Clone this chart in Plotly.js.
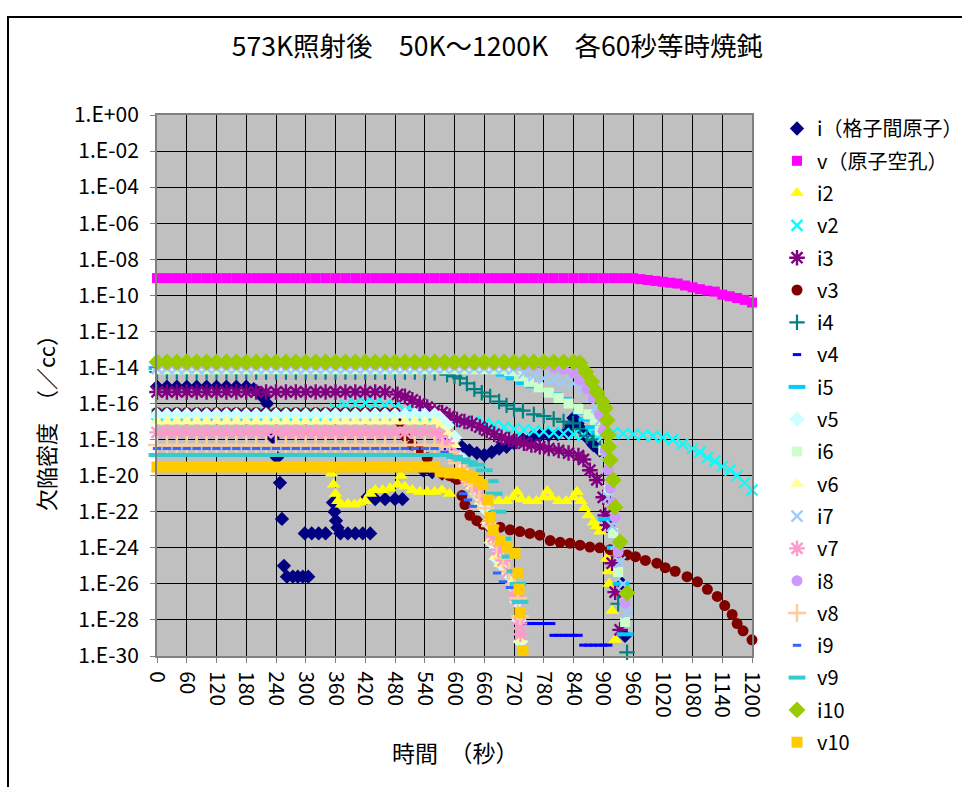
<!DOCTYPE html>
<html>
<head>
<meta charset="utf-8">
<script src="https://cdn.plot.ly/plotly-3.0.1.min.js"></script>
<style>
  html, body { margin: 0; padding: 0; background: #ffffff; }
  #chart { width: 962px; height: 787px; }
</style>
</head>
<body>
<div id="chart"></div>
<script>
// ---------- data (time in seconds, defect density in /cc) ----------
const time20 = [0,20,40,60,80,100,120,140,160,180,200,220,240,260,280,300,320,340,360,380,
  400,420,440,460,480,500,520,540,560,580,600,620,640,660,680,700,720,740,760,780,
  800,820,840,860,880,900,920,940,960];

const yTickVals = [1,1e-2,1e-4,1e-6,1e-8,1e-10,1e-12,1e-14,1e-16,1e-18,1e-20,1e-22,1e-24,1e-26,1e-28,1e-30];
const yTickText = ["1.E+00","1.E-02","1.E-04","1.E-06","1.E-08","1.E-10","1.E-12","1.E-14","1.E-16","1.E-18","1.E-20","1.E-22","1.E-24","1.E-26","1.E-28","1.E-30"];

const seriesNames = ["i（格子間原子）","v（原子空孔）","i2","v2","i3","v3","i4","v4","i5","v5","i6","v6","i7","v7","i8","v8","i9","v9","i10","v10"];

// i
const i_flat = [8.5e-16,8.5e-16,8.5e-16,8.5e-16,8.5e-16,8.5e-16,8.5e-16,8.5e-16,8.5e-16,8.5e-16];
const i_tt = [195,205,215,222,234,242,248,252,256,262,274,284,294,305,298,312,326,340,355,358,361,364,370,385,400,415,430,420,440,460,480,495,537,555,575,595,615,630,645,660,675,690,705,720,738,755,772,790,808,825,835,840,848,858,867,880,893,938,944];
const i_ty = [6.3e-16,4.0e-16,2.0e-16,1.0e-16,1.3e-18,1.0e-19,4.0e-21,4.0e-23,1.0e-25,2.5e-26,2.5e-26,2.5e-26,2.5e-26,2.5e-26,6.3e-24,6.3e-24,6.3e-24,6.3e-24,3.2e-22,1.0e-22,3.2e-23,1.3e-23,6.3e-24,6.3e-24,6.3e-24,6.3e-24,6.3e-24,5.0e-22,5.0e-22,5.0e-22,5.0e-22,5.0e-22,2.0e-20,1.6e-20,1.3e-20,1.0e-20,4.0e-19,2.5e-19,1.8e-19,1.4e-19,2.0e-19,3.2e-19,4.0e-19,6.3e-19,1.0e-18,1.3e-18,1.6e-18,1.8e-18,2.0e-18,2.5e-18,6.3e-18,1.6e-17,7.9e-18,3.2e-18,1.3e-18,5.0e-19,2.5e-19,1.0e-26,1.3e-29];

// v
const v_flat = [9.0e-10,9.0e-10,9.0e-10,9.0e-10,9.0e-10,9.0e-10,9.0e-10,9.0e-10,9.0e-10,9.0e-10,
  9.0e-10,9.0e-10,9.0e-10,9.0e-10,9.0e-10,9.0e-10,9.0e-10,9.0e-10,9.0e-10,9.0e-10,
  9.0e-10,9.0e-10,9.0e-10,9.0e-10,9.0e-10,9.0e-10,9.0e-10,9.0e-10,9.0e-10,9.0e-10,
  9.0e-10,9.0e-10,9.0e-10,9.0e-10,9.0e-10,9.0e-10,9.0e-10,9.0e-10,9.0e-10,9.0e-10,
  9.0e-10,9.0e-10,9.0e-10,9.0e-10,9.0e-10,9.0e-10,9.0e-10,9.0e-10,9.0e-10];
const v_tt = [975,990,1005,1020,1035,1050,1065,1080,1095,1110,1125,1140,1155,1170,1185,1200];
const v_ty = [7.9e-10,7.1e-10,6.3e-10,5.6e-10,5.0e-10,4.5e-10,3.5e-10,2.8e-10,2.2e-10,1.8e-10,1.6e-10,1.1e-10,8.9e-11,7.1e-11,5.6e-11,4.0e-11];

// i2
const i2_flat = [2.5e-20,2.5e-20,2.5e-20,2.5e-20,2.5e-20,2.5e-20,2.5e-20,2.5e-20,2.5e-20,2.5e-20,
  2.5e-20,2.5e-20,2.5e-20,2.5e-20,2.5e-20,2.5e-20,2.5e-20,2.5e-20];
const i2_tt = [352,356,360,365,372,385,398,410,420,430,440,455,470,485,492,500,515,530,545,560,575,590,672,690,705,718,726,735,750,765,780,787,795,810,825,840,847,855,862,870,880,887,893,907,910,912,918,924];
const i2_ty = [1.3e-20,3.2e-21,1.0e-21,4.0e-22,2.5e-22,2.8e-22,2.5e-22,3.2e-22,4.0e-22,1.0e-21,1.6e-21,1.6e-21,2.0e-21,3.2e-21,1.0e-20,2.5e-21,1.6e-21,1.3e-21,1.3e-21,1.3e-21,1.6e-21,1.0e-21,5.0e-22,4.0e-22,4.0e-22,6.3e-22,1.3e-21,5.0e-22,4.0e-22,4.0e-22,6.3e-22,1.4e-21,6.3e-22,4.0e-22,4.0e-22,6.3e-22,1.3e-21,4.0e-22,1.6e-22,6.3e-23,2.5e-23,1.6e-23,7.9e-24,2.5e-25,5.0e-26,1.0e-26,3.2e-28,7.9e-30];

// v2
const v2_flat = [2.5e-17,2.5e-17,2.5e-17,2.5e-17,2.5e-17,2.5e-17,2.5e-17,2.5e-17,2.5e-17,2.5e-17,
  2.5e-17,2.5e-17,2.5e-17,2.5e-17,2.5e-17,2.5e-17,2.5e-17,2.5e-17];
const v2_tt = [360,380,400,420,440,460,480,500,520,540,560,580,600,620,640,660,680,700,720,740,760,780,800,820,840,860,880,900,920,940,960,980,1000,1020,1040,1060,1080,1095,1110,1125,1140,1156,1170,1185,1200];
const v2_ty = [5.0e-17,7.9e-17,1.0e-16,1.1e-16,1.0e-16,7.9e-17,6.3e-17,4.0e-17,2.5e-17,2.0e-17,1.6e-17,1.3e-17,1.1e-17,1.0e-17,1.0e-17,7.9e-18,6.3e-18,5.0e-18,4.0e-18,3.5e-18,3.2e-18,2.8e-18,2.5e-18,2.2e-18,2.0e-18,1.8e-18,2.0e-18,2.5e-18,2.5e-18,2.2e-18,2.0e-18,1.8e-18,1.6e-18,1.3e-18,1.0e-18,5.6e-19,3.2e-19,2.0e-19,1.0e-19,6.3e-20,3.2e-20,2.0e-20,1.0e-20,4.0e-21,1.6e-21];

// i3
const i3_flat = [4.4e-16,4.4e-16,4.4e-16,4.4e-16,4.4e-16,4.4e-16,4.4e-16,4.4e-16,4.4e-16,4.4e-16,
  4.4e-16,4.4e-16,4.4e-16,4.4e-16,4.4e-16,4.4e-16,4.4e-16,4.4e-16,4.4e-16,4.4e-16,
  4.4e-16,4.4e-16,4.4e-16,4.4e-16];
const i3_tt = [485,500,515,530,545,560,575,590,605,620,635,651,665,680,695,710,725,740,755,772,790,810,830,850,860,873,887,900,904,908,918,924,934];
const i3_ty = [3.2e-16,2.5e-16,1.6e-16,1.0e-16,6.3e-17,4.0e-17,3.2e-17,2.0e-17,1.3e-17,1.0e-17,7.9e-18,5.0e-18,3.2e-18,2.0e-18,1.3e-18,1.0e-18,7.9e-19,6.3e-19,5.0e-19,4.0e-19,3.2e-19,2.5e-19,1.8e-19,1.3e-19,7.9e-20,2.0e-20,5.8e-21,6.3e-22,6.3e-23,1.8e-23,1.4e-25,3.5e-27,2.8e-29];

// v3
const v3_flat = [3.2e-17,3.2e-17,3.2e-17,3.2e-17,3.2e-17,3.2e-17,3.2e-17,3.2e-17,3.2e-17,3.2e-17,
  3.2e-17,3.2e-17,3.2e-17,3.2e-17,3.2e-17,3.2e-17,3.2e-17,3.2e-17,3.2e-17,3.2e-17,
  3.2e-17,3.2e-17,3.2e-17,3.2e-17,3.2e-17];
const v3_tt = [490,500,515,530,545,560,575,590,605,615,621,631,645,657,672,692,712,732,752,772,793,813,833,853,873,893,914,930,948,965,985,1008,1025,1045,1069,1090,1110,1130,1145,1160,1170,1182,1200];
const v3_ty = [1.0e-17,1.6e-18,5.0e-19,2.5e-19,1.0e-19,2.5e-20,1.3e-20,1.0e-20,6.3e-21,7.9e-22,2.5e-22,6.3e-23,3.2e-23,2.0e-23,1.4e-23,1.4e-23,1.0e-23,7.9e-24,6.3e-24,5.0e-24,2.5e-24,2.0e-24,1.8e-24,1.4e-24,1.1e-24,1.0e-24,7.9e-25,5.6e-25,4.0e-25,3.2e-25,2.0e-25,1.4e-25,7.9e-26,5.0e-26,2.5e-26,1.3e-26,5.0e-27,2.0e-27,6.3e-28,2.0e-28,6.3e-29,2.5e-29,7.9e-30];

// i4
const i4_flat = [5.6e-15,5.6e-15,5.6e-15,5.6e-15,5.6e-15,5.6e-15,5.6e-15,5.6e-15,5.6e-15,5.6e-15,
  5.6e-15,5.6e-15,5.6e-15,5.6e-15,5.6e-15,5.6e-15,5.6e-15,5.6e-15,5.6e-15,5.6e-15,
  5.6e-15,5.6e-15,5.6e-15,5.6e-15,5.6e-15,5.6e-15,5.6e-15,5.6e-15];
const i4_tt = [560,585,600,611,625,640,655,672,690,705,720,738,760,780,800,820,839,853,867,880,893,930,948];
const i4_ty = [5.0e-15,4.0e-15,3.2e-15,2.5e-15,1.3e-15,6.3e-16,4.0e-16,2.5e-16,1.3e-16,7.9e-17,5.0e-17,4.0e-17,2.5e-17,2.0e-17,1.4e-17,1.0e-17,7.9e-18,4.0e-18,1.6e-18,1.0e-18,4.0e-19,7.9e-28,1.6e-30];

// v4
const v4_flat = [3.5e-17,3.5e-17,3.5e-17,3.5e-17,3.5e-17,3.5e-17,3.5e-17,3.5e-17,3.5e-17,3.5e-17,
  3.5e-17,3.5e-17,3.5e-17,3.5e-17,3.5e-17,3.5e-17,3.5e-17,3.5e-17,3.5e-17,3.5e-17,
  3.5e-17,3.5e-17,3.5e-17,3.5e-17,3.5e-17,3.5e-17,3.5e-17,3.5e-17];
const v4_tt = [560,577,587,597,745,755,765,775,785,795,800,810,820,830,840,850,860,870,880,890,900,910];
const v4_ty = [1.6e-17,1.0e-18,3.2e-19,1.8e-19,6.3e-29,6.3e-29,6.3e-29,6.3e-29,6.3e-29,6.3e-29,1.4e-29,1.4e-29,1.4e-29,1.4e-29,1.4e-29,1.4e-29,4.0e-30,4.0e-30,4.0e-30,4.0e-30,4.0e-30,4.0e-30];

// i5
const i5_flat = [9.3e-15,9.3e-15,9.3e-15,9.3e-15,9.3e-15,9.3e-15,9.3e-15,9.3e-15,9.3e-15,9.3e-15,
  9.3e-15,9.3e-15,9.3e-15,9.3e-15,9.3e-15,9.3e-15,9.3e-15,9.3e-15,9.3e-15,9.3e-15,
  9.3e-15,9.3e-15,9.3e-15,9.3e-15,9.3e-15,9.3e-15,9.3e-15,9.3e-15,9.3e-15,9.3e-15,
  9.3e-15,9.3e-15,9.3e-15];
const i5_tt = [660,680,700,720,740,760,780,800,820,840,855,867,880,893,906,924,936,944];
const i5_ty = [1.0e-14,6.3e-15,4.0e-15,2.5e-15,1.4e-15,8.9e-16,5.6e-16,3.2e-16,1.8e-16,7.9e-17,3.2e-17,1.3e-17,5.0e-18,2.5e-18,4.0e-23,1.0e-24,1.0e-26,1.6e-29];

// v5
const v5_flat = [2.3e-17,2.3e-17,2.3e-17,2.3e-17,2.3e-17,2.3e-17,2.3e-17,2.3e-17,2.3e-17,2.3e-17,
  2.3e-17,2.3e-17,2.3e-17,2.3e-17,2.3e-17,2.3e-17,2.3e-17,2.3e-17,2.3e-17,2.3e-17,
  2.3e-17,2.3e-17,2.3e-17,2.3e-17,2.3e-17,2.3e-17,2.3e-17,2.3e-17,2.3e-17];
const v5_tt = [570,585,600,611,620,630,645,660,670,678,686,698,710,720,726,730,733];
const v5_ty = [1.6e-17,6.3e-18,1.3e-18,1.0e-19,1.3e-20,5.0e-21,1.0e-21,1.6e-22,2.0e-23,1.6e-24,2.5e-25,1.0e-25,3.2e-26,6.3e-27,1.0e-27,1.0e-28,6.3e-30];

// i6
const i6_flat = [7.9e-15,7.9e-15,7.9e-15,7.9e-15,7.9e-15,7.9e-15,7.9e-15,7.9e-15,7.9e-15,7.9e-15,
  7.9e-15,7.9e-15,7.9e-15,7.9e-15,7.9e-15,7.9e-15,7.9e-15,7.9e-15,7.9e-15,7.9e-15,
  7.9e-15,7.9e-15,7.9e-15,7.9e-15,7.9e-15,7.9e-15,7.9e-15,7.9e-15,7.9e-15,7.9e-15,
  7.9e-15,7.9e-15,7.9e-15,7.9e-15,7.9e-15,7.9e-15];
const i6_tt = [710,730,750,770,790,810,830,850,870,883,893,900,910,920,930,944];
const i6_ty = [6.3e-15,3.2e-15,1.6e-15,7.9e-16,4.0e-16,2.0e-16,1.0e-16,5.0e-17,2.5e-17,1.2e-17,3.2e-18,2.5e-19,1.6e-21,6.6e-24,4.5e-26,7.6e-29];

// v6
const v6_flat = [1.0e-17,1.0e-17,1.0e-17,1.0e-17,1.0e-17,1.0e-17,1.0e-17,1.0e-17,1.0e-17,1.0e-17,
  1.0e-17,1.0e-17,1.0e-17,1.0e-17,1.0e-17,1.0e-17,1.0e-17,1.0e-17,1.0e-17,1.0e-17,
  1.0e-17,1.0e-17,1.0e-17,1.0e-17,1.0e-17,1.0e-17,1.0e-17,1.0e-17,1.0e-17];
const v6_tt = [570,585,600,615,625,635,651,665,672,682,692,702,715,725,730,733];
const v6_ty = [6.3e-18,2.5e-18,5.0e-19,3.2e-20,6.3e-21,2.5e-21,3.2e-22,3.2e-23,2.5e-24,3.2e-25,1.3e-25,5.0e-26,1.3e-26,1.6e-27,1.6e-28,7.9e-30];

// i7
const i7_flat = [8.9e-15,8.9e-15,8.9e-15,8.9e-15,8.9e-15,8.9e-15,8.9e-15,8.9e-15,8.9e-15,8.9e-15,
  8.9e-15,8.9e-15,8.9e-15,8.9e-15,8.9e-15,8.9e-15,8.9e-15,8.9e-15,8.9e-15,8.9e-15,
  8.9e-15,8.9e-15,8.9e-15,8.9e-15,8.9e-15,8.9e-15,8.9e-15,8.9e-15,8.9e-15,8.9e-15,
  8.9e-15,8.9e-15,8.9e-15,8.9e-15,8.9e-15,8.9e-15];
const i7_tt = [718,740,760,780,800,820,840,860,875,887,895,900,905,910,918,926,934,940,948];
const i7_ty = [7.9e-15,5.0e-15,3.5e-15,2.5e-15,2.0e-15,1.6e-15,1.3e-15,6.3e-16,2.5e-16,6.3e-17,1.3e-17,1.6e-18,1.0e-19,6.3e-22,1.6e-23,1.6e-24,1.6e-25,1.0e-26,2.5e-28];

// v7
const v7_flat = [2.5e-18,2.5e-18,2.5e-18,2.5e-18,2.5e-18,2.5e-18,2.5e-18,2.5e-18,2.5e-18,2.5e-18,
  2.5e-18,2.5e-18,2.5e-18,2.5e-18,2.5e-18,2.5e-18,2.5e-18,2.5e-18,2.5e-18,2.5e-18,
  2.5e-18,2.5e-18,2.5e-18,2.5e-18,2.5e-18,2.5e-18,2.5e-18,2.5e-18,2.5e-18];
const v7_tt = [570,585,600,615,625,645,657,672,678,688,698,708,722,728,731,733];
const v7_ty = [1.6e-18,6.3e-19,1.3e-19,1.6e-20,6.3e-21,2.0e-21,6.3e-22,3.2e-23,4.0e-24,7.9e-25,2.0e-25,5.0e-26,3.2e-27,1.3e-27,6.3e-29,1.6e-29];

// i8
const i8_flat = [1.4e-14,1.4e-14,1.4e-14,1.4e-14,1.4e-14,1.4e-14,1.4e-14,1.4e-14,1.4e-14,1.4e-14,
  1.4e-14,1.4e-14,1.4e-14,1.4e-14,1.4e-14,1.4e-14,1.4e-14,1.4e-14,1.4e-14,1.4e-14,
  1.4e-14,1.4e-14,1.4e-14,1.4e-14,1.4e-14,1.4e-14,1.4e-14,1.4e-14,1.4e-14,1.4e-14,
  1.4e-14,1.4e-14,1.4e-14,1.4e-14,1.4e-14,1.4e-14,1.4e-14,1.4e-14,1.4e-14,1.4e-14];
const i8_tt = [800,820,840,853,867,880,893,900,904,910,914,920,924,930,944];
const i8_ty = [1.0e-14,7.9e-15,5.0e-15,2.0e-15,6.3e-16,2.0e-16,2.3e-17,3.2e-18,2.6e-19,2.0e-20,2.0e-21,3.2e-22,5.0e-23,5.8e-25,8.5e-28];

// v8
const v8_flat = [5.0e-19,5.0e-19,5.0e-19,5.0e-19,5.0e-19,5.0e-19,5.0e-19,5.0e-19,5.0e-19,5.0e-19,
  5.0e-19,5.0e-19,5.0e-19,5.0e-19,5.0e-19,5.0e-19,5.0e-19,5.0e-19,5.0e-19,5.0e-19,
  5.0e-19,5.0e-19,5.0e-19,5.0e-19,5.0e-19,5.0e-19,5.0e-19,5.0e-19,5.0e-19];
const v8_tt = [575,590,605,620,635,650,662,672,685,698,710,720,728,732];
const v8_ty = [4.0e-19,2.0e-19,5.0e-20,1.3e-20,3.2e-21,7.9e-22,1.6e-22,1.6e-23,1.6e-24,2.5e-25,5.0e-26,1.0e-26,1.6e-27,1.6e-28];

// i9
const i9_flat = [3.2e-19,3.2e-19,3.2e-19,3.2e-19,3.2e-19,3.2e-19,3.2e-19,3.2e-19,3.2e-19,3.2e-19,
  3.2e-19,3.2e-19,3.2e-19,3.2e-19,3.2e-19,3.2e-19,3.2e-19,3.2e-19,3.2e-19,3.2e-19,
  3.2e-19,3.2e-19,3.2e-19,3.2e-19,3.2e-19,3.2e-19,3.2e-19,3.2e-19,3.2e-19];
const i9_tt = [580,600,617,627,637,686,698,712];
const i9_ty = [2.0e-19,1.0e-19,1.0e-21,4.5e-22,2.0e-22,4.0e-26,1.3e-26,6.3e-27];

// v9
const v9_flat = [1.4e-19,1.4e-19,1.4e-19,1.4e-19,1.4e-19,1.4e-19,1.4e-19,1.4e-19,1.4e-19,1.4e-19,
  1.4e-19,1.4e-19,1.4e-19,1.4e-19,1.4e-19,1.4e-19,1.4e-19,1.4e-19,1.4e-19,1.4e-19,
  1.4e-19,1.4e-19,1.4e-19,1.4e-19,1.4e-19,1.4e-19,1.4e-19,1.4e-19,1.4e-19,1.4e-19];
const v9_tt = [600,615,630,645,660,672,680,688,698,712,722,728,732];
const v9_ty = [1.1e-19,7.9e-20,5.6e-20,4.0e-20,2.0e-20,5.0e-21,1.0e-21,1.0e-22,3.2e-24,3.2e-25,5.0e-26,1.0e-26,1.0e-27];

// i10
const i10_flat = [2.0e-14,2.0e-14,2.0e-14,2.0e-14,2.0e-14,2.0e-14,2.0e-14,2.0e-14,2.0e-14,2.0e-14,
  2.0e-14,2.0e-14,2.0e-14,2.0e-14,2.0e-14,2.0e-14,2.0e-14,2.0e-14,2.0e-14,2.0e-14,
  2.0e-14,2.0e-14,2.0e-14,2.0e-14,2.0e-14,2.0e-14,2.0e-14,2.0e-14,2.0e-14,2.0e-14,
  2.0e-14,2.0e-14,2.0e-14,2.0e-14,2.0e-14,2.0e-14,2.0e-14,2.0e-14,2.0e-14,2.0e-14,
  2.0e-14,2.0e-14,2.0e-14];
const i10_tt = [853,865,877,887,898,904,908,910,911,914,920,924,934,948];
const i10_ty = [1.8e-14,5.6e-15,1.6e-15,4.4e-16,1.3e-16,5.6e-17,1.2e-17,1.8e-18,4.0e-19,7.4e-20,5.8e-21,1.8e-22,2.1e-24,3.1e-27];

// v10
const v10_flat = [3.0e-20,3.0e-20,3.0e-20,3.0e-20,3.0e-20,3.0e-20,3.0e-20,3.0e-20,3.0e-20,3.0e-20,
  3.0e-20,3.0e-20,3.0e-20,3.0e-20,3.0e-20,3.0e-20,3.0e-20,3.0e-20,3.0e-20,3.0e-20,
  3.0e-20,3.0e-20,3.0e-20,3.0e-20,3.0e-20,3.0e-20,3.0e-20,3.0e-20,3.0e-20];
const v10_tt = [571,590,611,625,637,648,657,668,672,678,692,706,722,728,730,732,738];
const v10_ty = [1.6e-20,1.4e-20,1.3e-20,1.0e-20,7.9e-21,5.0e-21,3.2e-21,4.5e-22,5.0e-23,1.0e-23,2.5e-24,1.1e-24,5.0e-25,4.0e-26,5.0e-27,2.5e-28,2.0e-30];

// ---------- styles ----------
const styles = [
  {symbol:'diamond', color:'#000080', size:11},
  {symbol:'square', color:'#FF00FF', size:10},
  {symbol:'triangle-up', color:'#FFFF00', size:12},
  {symbol:'x-thin-open', color:'#00FFFF', size:11, lw:2.2},
  {symbol:'asterisk-open', color:'#800080', size:13, lw:2.4},
  {symbol:'circle', color:'#800000', size:11},
  {symbol:'cross-thin-open', color:'#008080', size:11, lw:2.2},
  {symbol:'line-ew-open', color:'#0000FF', size:6, lw:3},
  {symbol:'line-ew-open', color:'#00CCFF', size:12, lw:4},
  {symbol:'diamond', color:'#CCFFFF', size:12},
  {symbol:'square', color:'#CCFFCC', size:10},
  {symbol:'triangle-up', color:'#FFFF99', size:12},
  {symbol:'x-thin-open', color:'#99CCFF', size:11, lw:2.2},
  {symbol:'asterisk-open', color:'#FF99CC', size:13, lw:2.4},
  {symbol:'circle', color:'#CC99FF', size:11},
  {symbol:'cross-thin-open', color:'#FFCC99', size:13, lw:2.4},
  {symbol:'line-ew-open', color:'#3366FF', size:6, lw:3},
  {symbol:'line-ew-open', color:'#33CCCC', size:12, lw:4},
  {symbol:'diamond', color:'#99CC00', size:13},
  {symbol:'square', color:'#FFCC00', size:11}
];

const flats = [i_flat,v_flat,i2_flat,v2_flat,i3_flat,v3_flat,i4_flat,v4_flat,i5_flat,v5_flat,i6_flat,v6_flat,i7_flat,v7_flat,i8_flat,v8_flat,i9_flat,v9_flat,i10_flat,v10_flat];
const tailsT = [i_tt,v_tt,i2_tt,v2_tt,i3_tt,v3_tt,i4_tt,v4_tt,i5_tt,v5_tt,i6_tt,v6_tt,i7_tt,v7_tt,i8_tt,v8_tt,i9_tt,v9_tt,i10_tt,v10_tt];
const tailsY = [i_ty,v_ty,i2_ty,v2_ty,i3_ty,v3_ty,i4_ty,v4_ty,i5_ty,v5_ty,i6_ty,v6_ty,i7_ty,v7_ty,i8_ty,v8_ty,i9_ty,v9_ty,i10_ty,v10_ty];

const FONT = '"Noto Sans CJK JP", "Noto Sans", sans-serif';

const traces = seriesNames.map((name, k) => {
  const st = styles[k];
  const open = st.symbol.indexOf('open') >= 0;
  return {
    type: 'scatter',
    mode: 'markers',
    name: name,
    legendgroup: 'g' + k,
    x: time20.slice(0, flats[k].length).concat(tailsT[k]),
    y: flats[k].concat(tailsY[k]),
    cliponaxis: false,
    marker: {
      symbol: st.symbol,
      size: st.size,
      color: st.color,
      line: open ? {color: st.color, width: st.lw} : {width: 0}
    },
    hoverinfo: 'x+y+name'
  };
});

// plot area: x 157..752, y 115..656 px
const PX = (px) => (px - 157) / 595;
const PY = (py) => (656 - py) / 541;

const layout = {
  width: 962,
  height: 787,
  margin: {l: 157, r: 210, t: 115, b: 131, pad: 0, autoexpand: false},
  paper_bgcolor: '#FFFFFF',
  plot_bgcolor: '#C0C0C0',
  font: {family: FONT, size: 20, color: '#000000'},
  showlegend: true,
  title: {
    text: '573K照射後　50K～1200K　各60秒等時焼鈍',
    font: {family: FONT, size: 26.5, color: '#000000'},
    xref: 'container', x: 0.517, xanchor: 'center',
    yref: 'container', y: 1 - 47/787, yanchor: 'middle'
  },
  xaxis: {
    range: [0, 1200],
    tickmode: 'linear', tick0: 0, dtick: 60,
    tickangle: 90,
    showgrid: true, gridcolor: '#000000', gridwidth: 1,
    zeroline: false,
    showline: true, linecolor: '#808080', linewidth: 2, mirror: true,
    ticks: 'outside', ticklen: 5, tickcolor: '#808080', tickwidth: 1,
    ticklabelstandoff: 4,
    tickfont: {family: FONT, size: 21, color: '#000000'}
  },
  yaxis: {
    type: 'log',
    range: [-30, 0],
    tickmode: 'array', tickvals: yTickVals, ticktext: yTickText,
    showgrid: true, gridcolor: '#000000', gridwidth: 1,
    zeroline: false,
    showline: true, linecolor: '#808080', linewidth: 2, mirror: true,
    ticks: 'outside', ticklen: 5, tickcolor: '#808080', tickwidth: 1,
    ticklabelstandoff: 7,
    tickfont: {family: FONT, size: 21, color: '#000000'}
  },
  legend: {
    x: PX(777), xanchor: 'left',
    y: PY(109), yanchor: 'top',
    font: {family: FONT, size: 20, color: '#000000'},
    tracegroupgap: 3.3,
    maxheight: 700,
    bgcolor: 'rgba(0,0,0,0)',
    itemwidth: 30
  },
  annotations: [
    {text: '欠陥密度　（／cc）', xref: 'paper', yref: 'paper', x: PX(45), y: PY(418),
     textangle: -90, showarrow: false, xanchor: 'center', yanchor: 'middle',
     font: {family: FONT, size: 22, color: '#000000'}},
    {text: '時間　（秒）', xref: 'paper', yref: 'paper', x: PX(455), y: PY(752),
     showarrow: false, xanchor: 'center', yanchor: 'middle',
     font: {family: FONT, size: 23, color: '#000000'}}
  ],
  shapes: [
    {type: 'rect', xref: 'paper', yref: 'paper',
     x0: PX(8), x1: PX(1000), y0: PY(820), y1: PY(17),
     line: {color: '#000000', width: 2}, fillcolor: 'rgba(0,0,0,0)', layer: 'below'}
  ]
};

Plotly.newPlot('chart', traces, layout, {displayModeBar: false, staticPlot: true});
</script>
</body>
</html>
